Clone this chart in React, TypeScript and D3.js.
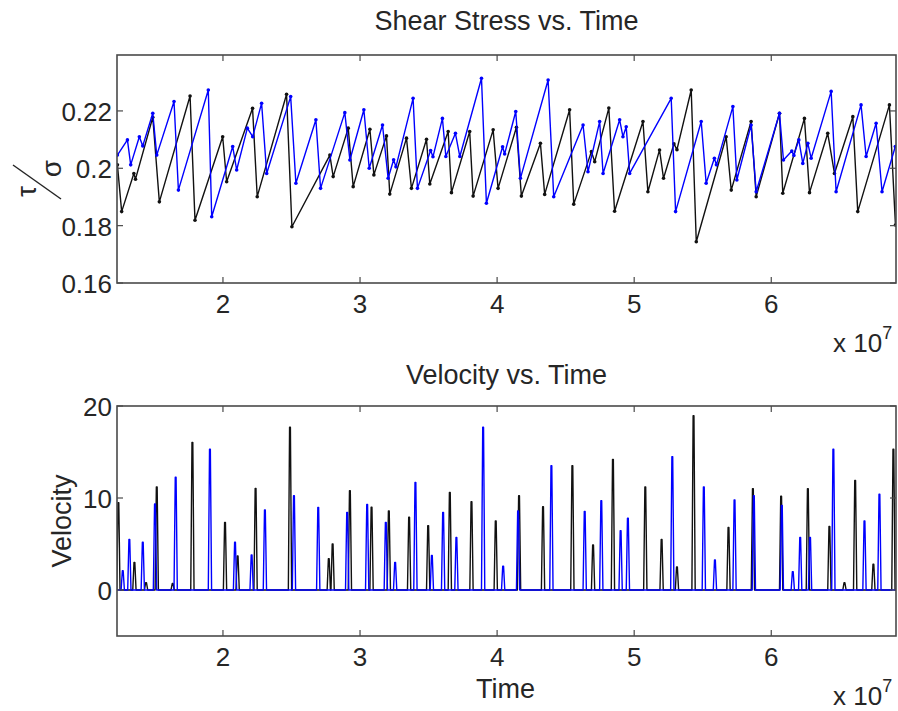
import React from "react";
import * as d3 from "d3";

// ---------- data (time in units of 1e7) ----------
const xDomain: [number, number] = [1.227, 6.91];
const xTicks = [2, 3, 4, 5, 6];
const stressDomain: [number, number] = [0.16, 0.2395];
const stressTicks = [0.16, 0.18, 0.2, 0.22];
const stressTickLabels = ["0.16", "0.18", "0.2", "0.22"];
const velDomain: [number, number] = [-5, 20];
const velTicks = [0, 10, 20];
const velTickLabels = ["0", "10", "20"];

const stressBlackT = [1.230, 1.261, 1.350, 1.362, 1.488, 1.536, 1.760, 1.796, 1.998, 2.027, 2.216, 2.250, 2.464, 2.503, 2.780, 2.804, 2.914, 2.950, 3.072, 3.101, 3.193, 3.217, 3.339, 3.375, 3.485, 3.509, 3.643, 3.667, 3.800, 3.825, 3.971, 4.007, 4.141, 4.177, 4.316, 4.347, 4.529, 4.559, 4.688, 4.712, 4.815, 4.857, 5.064, 5.100, 5.185, 5.214, 5.290, 5.312, 5.416, 5.453, 5.671, 5.708, 5.853, 5.890, 6.060, 6.084, 6.242, 6.279, 6.412, 6.461, 6.595, 6.631, 6.862, 6.906];
const stressBlackV = [0.2012, 0.1849, 0.1982, 0.1962, 0.2178, 0.1883, 0.2252, 0.1819, 0.2110, 0.1953, 0.2209, 0.1901, 0.2258, 0.1796, 0.2046, 0.1971, 0.2140, 0.1936, 0.2136, 0.1977, 0.2113, 0.1910, 0.2105, 0.1930, 0.2101, 0.1945, 0.2128, 0.1915, 0.2128, 0.1903, 0.2134, 0.1930, 0.2143, 0.1903, 0.2087, 0.1909, 0.2204, 0.1875, 0.2058, 0.2023, 0.2210, 0.1850, 0.2163, 0.1918, 0.2064, 0.1965, 0.2085, 0.2065, 0.2273, 0.1744, 0.2110, 0.1924, 0.2163, 0.1901, 0.2192, 0.1913, 0.2174, 0.1915, 0.2122, 0.1982, 0.2180, 0.1849, 0.2221, 0.1802];

const stressBlueT = [1.230, 1.303, 1.327, 1.390, 1.415, 1.488, 1.517, 1.643, 1.675, 1.893, 1.918, 2.071, 2.100, 2.178, 2.217, 2.282, 2.319, 2.494, 2.532, 2.678, 2.712, 2.889, 2.926, 3.028, 3.067, 3.164, 3.205, 3.245, 3.262, 3.387, 3.419, 3.515, 3.532, 3.601, 3.626, 3.696, 3.728, 3.886, 3.922, 4.040, 4.055, 4.136, 4.170, 4.372, 4.413, 4.627, 4.663, 4.748, 4.773, 4.894, 4.918, 4.942, 4.967, 5.270, 5.302, 5.489, 5.525, 5.585, 5.600, 5.720, 5.749, 5.853, 5.890, 6.060, 6.089, 6.150, 6.165, 6.201, 6.230, 6.267, 6.291, 6.437, 6.473, 6.655, 6.692, 6.765, 6.808, 6.905];
const stressBlueV = [0.2046, 0.2099, 0.2012, 0.2110, 0.2078, 0.2192, 0.2046, 0.2233, 0.1924, 0.2273, 0.1831, 0.2076, 0.1994, 0.2140, 0.2110, 0.2227, 0.1982, 0.2250, 0.1948, 0.2169, 0.1930, 0.2194, 0.2029, 0.2204, 0.2000, 0.2151, 0.1965, 0.2030, 0.2005, 0.2244, 0.1930, 0.2062, 0.2040, 0.2174, 0.2041, 0.2122, 0.2041, 0.2314, 0.1878, 0.2075, 0.2050, 0.2198, 0.1965, 0.2308, 0.1901, 0.2151, 0.1988, 0.2163, 0.1982, 0.2169, 0.2110, 0.2145, 0.1982, 0.2244, 0.1849, 0.2163, 0.1948, 0.2035, 0.2012, 0.2215, 0.1959, 0.2151, 0.1918, 0.2192, 0.2029, 0.2060, 0.2045, 0.2099, 0.2017, 0.2087, 0.2035, 0.2268, 0.1918, 0.2221, 0.2041, 0.2157, 0.1918, 0.2076];

// velocity spikes: peak time and peak height
const velBlackT = [1.237, 1.354, 1.439, 1.517, 1.633, 1.777, 2.015, 2.107, 2.238, 2.489, 2.772, 2.800, 2.926, 3.084, 3.210, 3.358, 3.497, 3.655, 3.813, 3.990, 4.160, 4.335, 4.549, 4.700, 4.845, 5.081, 5.200, 5.312, 5.433, 5.688, 5.866, 6.072, 6.267, 6.424, 6.534, 6.612, 6.745, 6.891];
const velBlackV = [9.5, 3.0, 0.8, 11.2, 0.7, 16.05, 7.35, 3.7, 11.05, 17.7, 3.4, 5.0, 10.8, 9.0, 8.6, 7.9, 7.0, 10.6, 9.6, 7.5, 10.25, 9.05, 13.5, 4.9, 14.2, 11.2, 5.5, 2.5, 18.95, 6.8, 11.0, 10.2, 11.0, 6.9, 0.8, 11.9, 2.8, 15.3];
const velBlueT = [1.269, 1.317, 1.415, 1.504, 1.655, 1.905, 2.088, 2.209, 2.306, 2.518, 2.695, 2.906, 3.052, 3.188, 3.256, 3.404, 3.524, 3.606, 3.703, 3.898, 4.044, 4.153, 4.396, 4.639, 4.760, 4.901, 4.954, 5.278, 5.508, 5.589, 5.732, 5.873, 6.077, 6.157, 6.211, 6.283, 6.453, 6.680, 6.789];
const velBlueV = [2.1, 5.5, 5.2, 9.35, 12.25, 15.3, 5.2, 3.8, 8.7, 10.25, 8.98, 8.44, 9.3, 7.35, 3.0, 11.7, 3.75, 8.44, 5.7, 17.7, 2.6, 8.6, 13.5, 8.55, 9.7, 6.45, 7.8, 14.5, 11.2, 3.26, 9.8, 10.25, 9.2, 2.0, 5.7, 5.7, 15.3, 7.5, 10.4];

// ---------- layout ----------
const W = 898;
const H = 711;
const L = 117;
const R = 896;
const P1 = { top: 55, bottom: 283 };
const P2 = { top: 406, bottom: 636 };
const FONT = "'Liberation Sans', Arial, Helvetica, sans-serif";
const TXT = "#262626";
const FRAME = "#4a4a4a";
const TICK = 6;
const SPIKE_HALF = 0.012;
const BLACK = "#111111";
const BLUE = "#0000ff";

type Pt = [number, number];

function Frame({ top, bottom, yScale, yTicks, yLabels, x }: any) {
  return (
    <g>
      <rect x={L} y={top} width={R - L} height={bottom - top} fill="none" stroke={FRAME} strokeWidth={1.6} />
      {xTicks.map((t) => (
        <g key={"xt" + t}>
          <line x1={x(t)} x2={x(t)} y1={bottom} y2={bottom - TICK} stroke={FRAME} strokeWidth={1.2} />
          <line x1={x(t)} x2={x(t)} y1={top} y2={top + TICK} stroke={FRAME} strokeWidth={1.2} />
          <text x={x(t)} y={bottom + 30} textAnchor="middle" fontSize={26} fontFamily={FONT} fill={TXT}>
            {String(t)}
          </text>
        </g>
      ))}
      {yTicks.map((t: number, i: number) => (
        <g key={"yt" + t}>
          <line x1={L} x2={L + TICK} y1={yScale(t)} y2={yScale(t)} stroke={FRAME} strokeWidth={1.2} />
          <line x1={R} x2={R - TICK} y1={yScale(t)} y2={yScale(t)} stroke={FRAME} strokeWidth={1.2} />
          <text x={L - 5} y={yScale(t) + 10} textAnchor="end" fontSize={26} fontFamily={FONT} fill={TXT}>
            {yLabels[i]}
          </text>
        </g>
      ))}
      <text x={833} y={bottom + 69} fontSize={26} fontFamily={FONT} fill={TXT}>
        x 10
        <tspan fontSize={18} dy={-13}>7</tspan>
      </text>
    </g>
  );
}

export default function App() {
  const x = d3.scaleLinear().domain(xDomain).range([L, R]);
  const y1 = d3.scaleLinear().domain(stressDomain).range([P1.bottom, P1.top]);
  const y2 = d3.scaleLinear().domain(velDomain).range([P2.bottom, P2.top]);

  const line1 = d3.line<Pt>().x((d) => x(d[0])).y((d) => y1(d[1]));
  const line2 = d3.line<Pt>().x((d) => x(d[0])).y((d) => y2(d[1]));

  const blackStress: Pt[] = stressBlackT.map((t, i) => [t, stressBlackV[i]]);
  const blueStress: Pt[] = stressBlueT.map((t, i) => [t, stressBlueV[i]]);

  const spikes = (ts: number[], vs: number[]): Pt[] => {
    const pts: Pt[] = [[xDomain[0], 0]];
    ts.forEach((t, i) => {
      pts.push([t - SPIKE_HALF, 0]);
      pts.push([t - SPIKE_HALF * 0.25, vs[i]]);
      pts.push([t + SPIKE_HALF * 0.25, vs[i]]);
      pts.push([t + SPIKE_HALF, 0]);
    });
    pts.push([xDomain[1], 0]);
    return pts;
  };
  const blackVel = spikes(velBlackT, velBlackV);
  const blueVel = spikes(velBlueT, velBlueV);

  const cx = (L + R) / 2;

  return (
    <svg width={W} height={H} style={{ position: "absolute", left: 0, top: 0, background: "#fff" }}>
      <defs>
        <clipPath id="c1">
          <rect x={L} y={P1.top} width={R - L} height={P1.bottom - P1.top} />
        </clipPath>
        <clipPath id="c2">
          <rect x={L} y={P2.top} width={R - L} height={P2.bottom - P2.top} />
        </clipPath>
      </defs>
      <rect x={0} y={0} width={W} height={H} fill="#fff" />

      {/* ---- top panel ---- */}
      <text x={cx} y={30} textAnchor="middle" fontSize={27} fontFamily={FONT} fill={TXT}>
        Shear Stress vs. Time
      </text>
      <g clipPath="url(#c1)">
        <path d={line1(blackStress) || ""} fill="none" stroke={BLACK} strokeWidth={1.4} strokeLinejoin="round" />
        {blackStress.map((d, i) => (
          <circle key={"bd" + i} cx={x(d[0])} cy={y1(d[1])} r={1.8} fill={BLACK} />
        ))}
        <path d={line1(blueStress) || ""} fill="none" stroke={BLUE} strokeWidth={1.4} strokeLinejoin="round" />
        {blueStress.map((d, i) => (
          <circle key={"ud" + i} cx={x(d[0])} cy={y1(d[1])} r={1.8} fill={BLUE} />
        ))}
      </g>
      <Frame top={P1.top} bottom={P1.bottom} yScale={y1} yTicks={stressTicks} yLabels={stressTickLabels} x={x} />
      {/* tau / sigma label */}
      <g fontFamily={FONT} fill={TXT}>
        <text transform="translate(36,191.5) rotate(-90)" textAnchor="middle" fontSize={27}>τ</text>
        <text transform="translate(61,168.5) rotate(-90)" textAnchor="middle" fontSize={28}>σ</text>
      </g>
      <line x1={13} y1={165} x2={61} y2={199} stroke={TXT} strokeWidth={1.5} />

      {/* ---- bottom panel ---- */}
      <text x={cx} y={384} textAnchor="middle" fontSize={27} fontFamily={FONT} fill={TXT}>
        Velocity vs. Time
      </text>
      <g clipPath="url(#c2)">
        <path d={line2(blackVel) || ""} fill="none" stroke={BLACK} strokeWidth={1.4} strokeLinejoin="round" />
        <path d={line2(blueVel) || ""} fill="none" stroke={BLUE} strokeWidth={1.4} strokeLinejoin="round" />
      </g>
      <Frame top={P2.top} bottom={P2.bottom} yScale={y2} yTicks={velTicks} yLabels={velTickLabels} x={x} />
      <text transform="translate(71,521) rotate(-90)" textAnchor="middle" fontSize={27} fontFamily={FONT} fill={TXT}>
        Velocity
      </text>
      <text x={cx - 1} y={698} textAnchor="middle" fontSize={27} fontFamily={FONT} fill={TXT}>
        Time
      </text>
    </svg>
  );
}
